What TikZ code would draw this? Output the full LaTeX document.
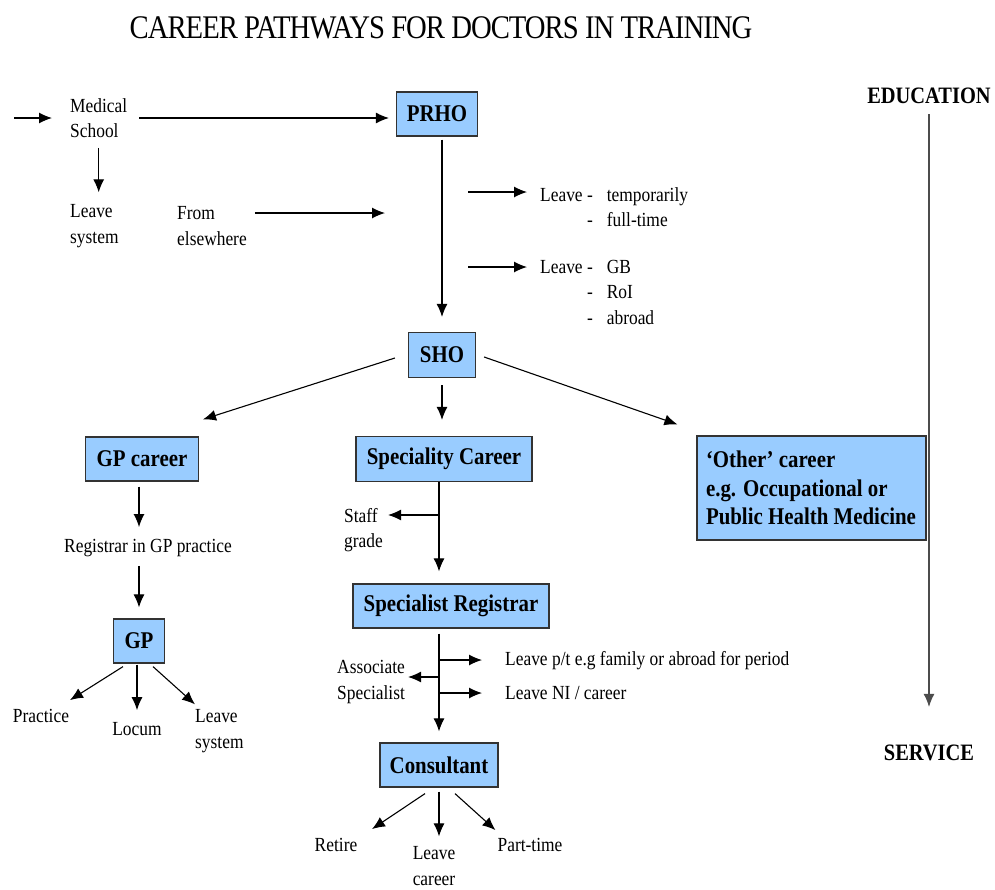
\documentclass[tikz,border=0pt]{standalone}
\usepackage{fontspec}
\setmainfont{Liberation Serif}[FakeStretch=0.87]
\usetikzlibrary{arrows.meta}
\definecolor{boxblue}{RGB}{153,204,255}

\begin{document}
\begin{tikzpicture}[x=1pt,y=-1pt,
    box/.style={rectangle,draw=black!80,fill=boxblue,line width=1.2pt,
      font=\fontsize{24}{28.5}\selectfont\bfseries,inner sep=0pt,minimum height=44pt},
    txt/.style={font=\fontsize{20}{25.5}\selectfont,inner sep=0pt,align=left},
    head/.style={font=\fontsize{23.5}{26}\selectfont\bfseries,inner sep=0pt},
    arr/.style={-{Latex[length=13pt,width=11pt]},line width=1.1pt}]
\useasboundingbox (0,0) rectangle (995,889);

\node[font=\fontsize{33}{36}\selectfont\addfontfeature{LetterSpace=-3},inner sep=0pt] (title)
          at (441,28) {CAREER PATHWAYS FOR DOCTORS IN TRAINING};

\node[box,minimum width=81pt] (prho) at (437,114) {PRHO};
\node[txt,anchor=west] (ms) at (70,118) {Medical\\School};
\node[txt,anchor=west] (msleave) at (70,226) {Leave\\system};
\node[txt,anchor=west] (elsew) at (177,226) {From\\elsewhere};
\node[txt,anchor=west] (lvtemp) at (540,207)
          {Leave -\hspace{14pt}temporarily\\\phantom{Leave }-\hspace{14pt}full-time};
\node[txt,anchor=west] (lvgb) at (540,292)
          {Leave -\hspace{14pt}GB\\\phantom{Leave }-\hspace{14pt}RoI\\\phantom{Leave }-\hspace{14pt}abroad};

\node[box,minimum width=67pt,minimum height=45pt] (sho) at (442,355) {SHO};
\node[box,minimum width=113pt] (gpc) at (142,459) {GP career};
\node[box,minimum width=176pt,minimum height=45pt] (spc) at (444,459) {Speciality Career};
\node[box,minimum height=104pt,align=flush left,inner xsep=9pt,text width=211pt] (oth)
          at (811.5,488) {`Other' career\\e.g. Occupational or\\Public Health Medicine};

\node[txt] (reg) at (148,548) {Registrar in GP practice};
\node[box,minimum width=51pt] (gp) at (139,641) {GP};
\node[txt] (practice) at (41,716) {Practice};
\node[txt] (locum) at (137,729) {Locum};
\node[txt,anchor=west] (gpleave) at (195,731) {Leave\\system};

\node[txt,anchor=west] (staff) at (344,530) {Staff\\grade};
\node[box,minimum width=196pt] (spr) at (451,606) {Specialist Registrar};
\node[txt,anchor=west] (assoc) at (337,682) {Associate\\Specialist};
\node[txt,anchor=west] (lvpt) at (505,661) {Leave p/t e.g family or abroad for period};
\node[txt,anchor=west] (lvni) at (505,693) {Leave NI / career};
\node[box,minimum width=118pt] (con) at (439,765) {Consultant};
\node[txt] (retire) at (336,845) {Retire};
\node[txt,align=center] (conleave) at (434,866) {Leave\\career};
\node[txt] (parttime) at (530,845) {Part-time};

\node[head] (edu) at (929,96) {EDUCATION};
\node[head] (serv) at (929,753) {SERVICE};

\coordinate (msin) at (14,118);
\coordinate (prhoin) at (385,213);
\coordinate (tempout) at (468,192);
\coordinate (gbout) at (468,267);
\coordinate (staffout) at (439,515);
\coordinate (ptout) at (439,660);
\coordinate (assocout) at (439,677);
\coordinate (niout) at (439,693);

\draw[arr,shorten >=18pt] (msin) -- (ms.west);
\draw[arr,shorten <=12pt,shorten >=7pt] (ms.east) -- (ms.east -| prho.west);
\draw[arr,shorten <=10pt,shorten >=12pt] (ms.south) -- (ms.south |- msleave.north);
\draw[arr,shorten <=8pt] ([yshift=13pt]elsew.east) -- (prhoin);
\draw[arr,shorten <=3pt,shorten >=15pt] (prho.south -| sho.north) -- (sho.north);
\draw[arr,shorten >=13pt] (tempout) -- (tempout -| lvtemp.west);
\draw[arr,shorten >=13pt] (gbout) -- (gbout -| lvgb.west);

\draw[arr] ([shift={(-13,3)}]sho.west) -- ([shift={(61,-17)}]gpc.north);
\draw[arr,shorten <=7pt,shorten >=16pt] (sho.south) -- (sho.south |- spc.north);
\draw[arr] ([shift={(8,2)}]sho.east) -- ([shift={(-19,-11)}]oth.north west);

\draw[arr,shorten <=5pt,shorten >=12pt] (gpc.south -| gp.north) -- (reg.north -| gp.north);
\draw[arr,shorten <=9pt,shorten >=11pt] (reg.south -| gp.north) -- (gp.north);
\draw[arr] ([shift={(-16,3)}]gp.south) -- ([shift={(29,-9)}]practice.north);
\draw[arr,shorten <=1pt,shorten >=12pt] (locum.north |- gp.south) -- (locum.north);
\draw[arr] ([shift={(14,3)}]gp.south) -- ([shift={(0,-5)}]gpleave.north west);

\draw[arr,shorten >=12pt] (spc.south -| con.north) -- (spr.north -| con.north);
\draw[arr,shorten >=5pt] (staffout) -- (staffout -| staff.east);
\draw[arr,shorten <=5pt,shorten >=11pt] (spr.south -| con.north) -- (con.north);
\draw[arr,shorten >=23pt] (ptout) -- (ptout -| lvpt.west);
\draw[arr,shorten >=23pt] (niout) -- (niout -| lvni.west);
\draw[arr,shorten >=3pt] (assocout) -- (assocout -| assoc.east);

\draw[arr] ([shift={(-14,6)}]con.south) -- ([shift={(36,-9)}]retire.north);
\draw[arr,shorten <=4pt,shorten >=10pt] (con.south) -- (con.south |- conleave.north);
\draw[arr] ([shift={(16,6)}]con.south) -- ([shift={(-2,-8)}]parttime.north west);

\draw[arr,black!70,shorten <=10pt,shorten >=38pt] (edu.south) -- (serv.north);
\end{tikzpicture}
\end{document}
